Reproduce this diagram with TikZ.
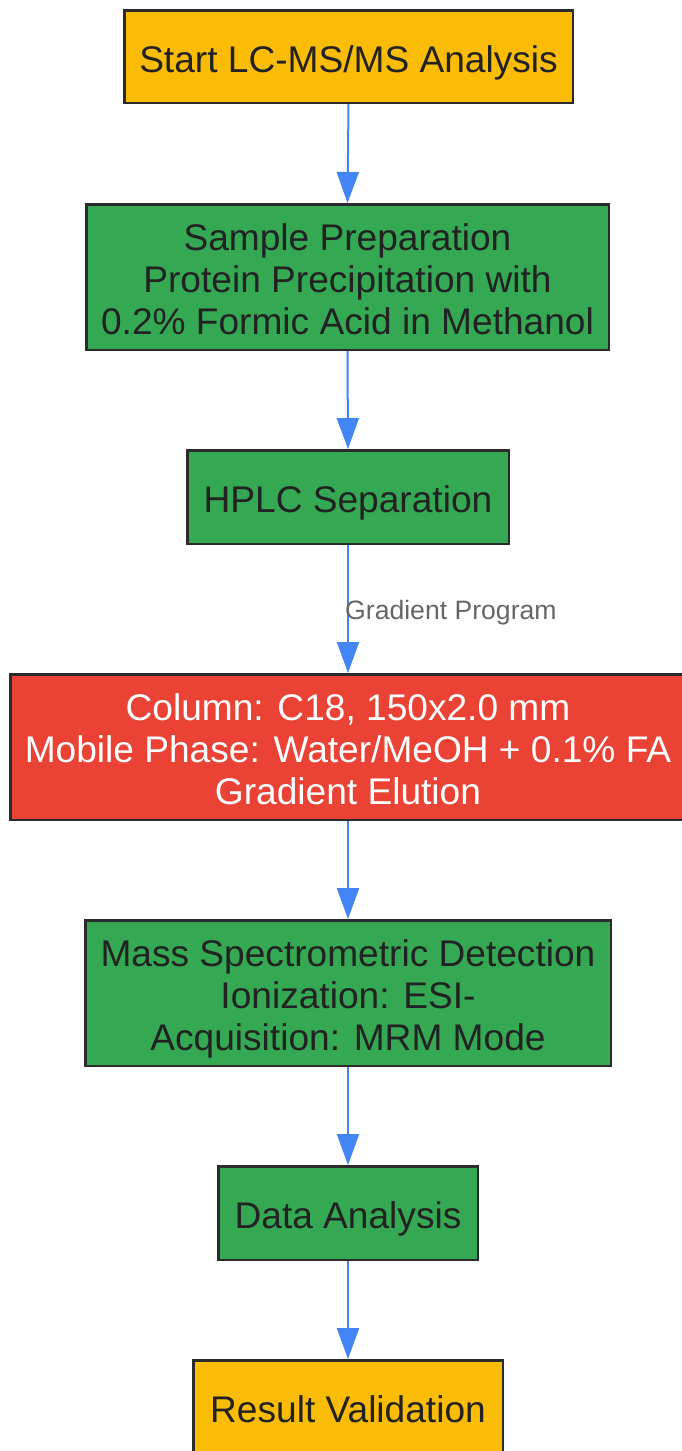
\documentclass[tikz,border=0pt]{standalone}
\usepackage{fontspec}
\setmainfont{Liberation Sans}
\usetikzlibrary{arrows.meta}
\definecolor{yel}{HTML}{FBBC05}
\definecolor{grn}{HTML}{34A853}
\definecolor{rd}{HTML}{EA4335}
\definecolor{blu}{HTML}{4285F4}
\definecolor{edgec}{HTML}{2B2B2B}
\definecolor{txt}{HTML}{222222}
\definecolor{lblc}{HTML}{666666}
\newcommand\topstr{\rule{0pt}{39pt}}
\newcommand\botstr{\rule[-8pt]{0pt}{8pt}}
\newcommand\onestr{\rule[-8pt]{0pt}{47pt}}
\begin{document}
\begin{tikzpicture}[x=1pt,y=-1pt,
  box/.style={draw=edgec, line width=2.5pt, inner sep=0pt, align=center,
    font=\fontsize{37.1}{42}\selectfont, text=txt},
  yelbox/.style={box, fill=yel},
  grnbox/.style={box, fill=grn},
  redbox/.style={box, fill=rd, text=white},
  arr/.style={draw=blu, line width=2pt, -{Triangle[width=22pt,length=31pt]}},
  elabel/.style={text=lblc, inner sep=0pt, font=\fontsize{26.6}{30}\selectfont}]
\useasboundingbox (0,0) rectangle (681,1451);
\node[yelbox, minimum width=448.5pt, minimum height=92.5pt] (s) at (348.5,56.5) {\onestr Start LC-MS/MS Analysis};
\node[grnbox, minimum width=522.5pt, minimum height=145.5pt] (p) at (347.5,277) {\topstr Sample Preparation\\Protein Precipitation with\\0.2\% Formic Acid in Methanol\botstr};
\node[grnbox, minimum width=321.5pt, minimum height=93.5pt] (h) at (348,497) {\onestr HPLC Separation};
\node[redbox, minimum width=675.5pt, minimum height=145.5pt] (c) at (348,747) {\topstr Column: C18, 150x2.0 mm\\Mobile Phase: Water/MeOH + 0.1\% FA\\Gradient Elution\botstr};
\node[grnbox, minimum width=525.5pt, minimum height=145.5pt] (m) at (348,993) {\topstr Mass Spectrometric Detection\\Ionization: ESI-\\Acquisition: MRM Mode\botstr};
\node[grnbox, minimum width=259.5pt, minimum height=93.5pt] (d) at (348,1213) {\onestr Data Analysis};
\node[yelbox, minimum width=309.5pt, minimum height=93.5pt] (r) at (348,1407) {\onestr Result Validation};
\draw[arr] (s.south) -- (p.north);
\draw[arr] (p.south) -- (h.north);
\draw[arr] (h.south) -- (c.north);
\draw[arr] (c.south) -- (m.north);
\draw[arr] (m.south) -- (d.north);
\draw[arr] (d.south) -- (r.north);
\node[elabel, anchor=west] (gl) at (345,613) {Gradient Program};
\end{tikzpicture}
\end{document}
